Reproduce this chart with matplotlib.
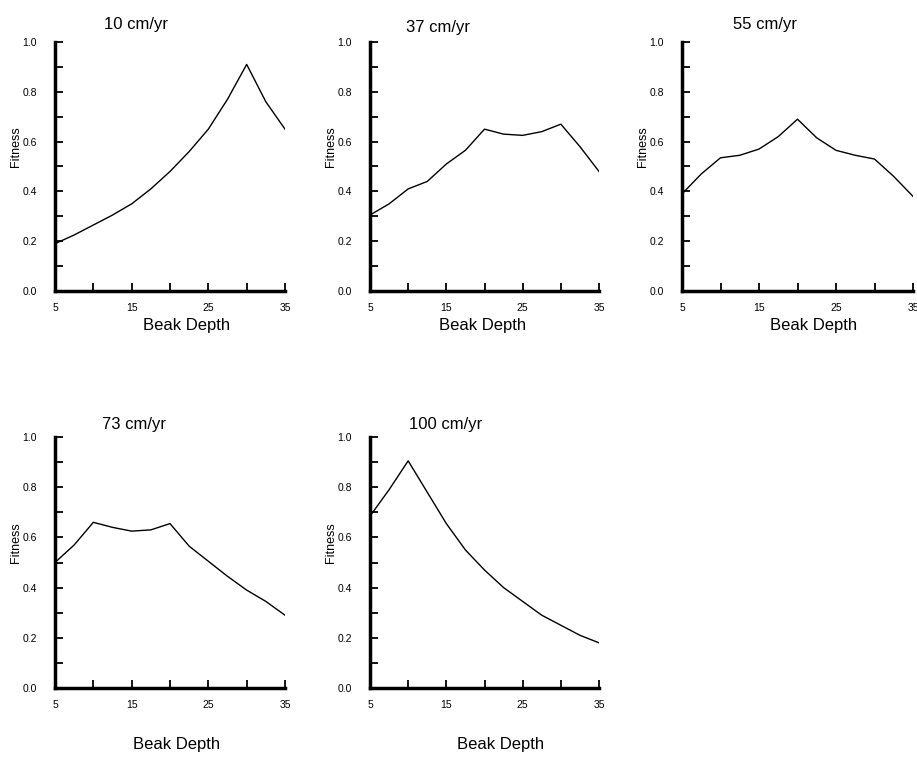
import numpy as np
import matplotlib
matplotlib.use("Agg")
import matplotlib.pyplot as plt

# ---------------------------------
# Data
# ---------------------------------
beak_depth = [5, 7.5, 10, 12.5, 15, 17.5, 20, 22.5, 25, 27.5, 30, 32.5, 35]

rain_labels = ["10 cm/yr", "37 cm/yr", "55 cm/yr", "73 cm/yr", "100 cm/yr"]

fit_10 = [0.19, 0.225, 0.265, 0.305, 0.35, 0.41, 0.48, 0.56, 0.65, 0.77, 0.91, 0.76, 0.65]
fit_37 = [0.305, 0.35, 0.41, 0.44, 0.51, 0.565, 0.65, 0.63, 0.625, 0.64, 0.67, 0.58, 0.48]
fit_55 = [0.39, 0.47, 0.535, 0.545, 0.57, 0.62, 0.69, 0.615, 0.565, 0.545, 0.53, 0.46, 0.38]
fit_73 = [0.50, 0.57, 0.66, 0.64, 0.625, 0.63, 0.655, 0.565, 0.505, 0.445, 0.39, 0.345, 0.29]
fit_100 = [0.685, 0.79, 0.905, 0.78, 0.655, 0.55, 0.47, 0.40, 0.345, 0.29, 0.25, 0.21, 0.18]

series = [fit_10, fit_37, fit_55, fit_73, fit_100]

x_ticks = [5, 10, 15, 20, 25, 30, 35]
x_ticklabels = ["5", "", "15", "", "25", "", "35"]
y_ticks = [0.0, 0.1, 0.2, 0.3, 0.4, 0.5, 0.6, 0.7, 0.8, 0.9, 1.0]
y_ticklabels = ["0.0", "", "0.2", "", "0.4", "", "0.6", "", "0.8", "", "1.0"]

# ---------------------------------
# Layout (figure fractions)
# ---------------------------------
W, H = 917, 763
boxes = [
    (55, 42, 230, 249),
    (370, 42, 229, 249),
    (682, 42, 231, 249),
    (55, 437, 230, 251),
    (370, 437, 229, 251),
]
title_pos = [(0.35, 1.07), (0.295, 1.06), (0.36, 1.07), (0.345, 1.05), (0.33, 1.05)]
xlabel_pos = [(0.57, -0.137), (0.49, -0.137), (0.57, -0.137), (0.53, -0.227), (0.57, -0.227)]

plt.rcParams["font.family"] = ["Liberation Sans", "DejaVu Sans"]

fig = plt.figure(figsize=(W / 100, H / 100), dpi=100)

for i, (lx, ty, w, h) in enumerate(boxes):
    ax = fig.add_axes([lx / W, (H - ty - h) / H, w / W, h / H])
    ax.plot(beak_depth, series[i], color="black", linewidth=1.0)

    ax.set_xlim(5, 35)
    ax.set_ylim(0, 1.0)
    ax.set_xticks(x_ticks)
    ax.set_xticklabels(x_ticklabels, fontsize=7.5)
    ax.set_yticks(y_ticks)
    ax.set_yticklabels(y_ticklabels, fontsize=7.5)
    ax.tick_params(axis="x", direction="in", length=6, width=1.3, pad=9)
    ax.tick_params(axis="y", direction="in", length=6, width=1.3, pad=13)

    for side in ["top", "right"]:
        ax.spines[side].set_visible(False)
    for side in ["left", "bottom"]:
        ax.spines[side].set_linewidth(2.5)

    ax.text(title_pos[i][0], title_pos[i][1], rain_labels[i],
            transform=ax.transAxes, ha="center", va="center", fontsize=12)
    ax.text(xlabel_pos[i][0], xlabel_pos[i][1], "Beak Depth",
            transform=ax.transAxes, ha="center", va="center", fontsize=12)
    ax.text(-0.17, 0.58, "Fitness", transform=ax.transAxes, rotation=90,
            ha="center", va="center", fontsize=9)

fig.savefig("out.png", dpi=100)
